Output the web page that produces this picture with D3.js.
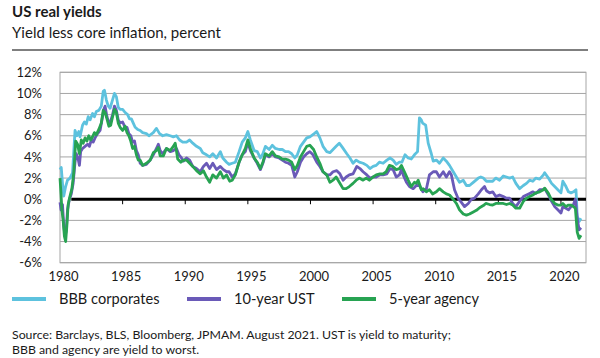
<!DOCTYPE html>
<html><head><meta charset="utf-8">
<script src="https://cdn.jsdelivr.net/npm/d3@7"></script>
<style>
html,body{margin:0;padding:0;background:#fff;}
text{font-family:Lato,"Liberation Sans",Arial,sans-serif;fill:#1a1a1a;}
</style></head>
<body><svg id="chart" width="600" height="358"></svg>
<script>
const title = "US real yields";
const subtitle = "Yield less core inflation, percent";
const footnote = ["Source: Barclays, BLS, Bloomberg, JPMAM. August 2021. UST is yield to maturity;", "BBB and agency are yield to worst."];
const seriesNames = ["BBB corporates", "10-year UST", "5-year agency"];
const seriesColors = ["#5dc2de", "#6a5ab8", "#27a352"];
const xTickYears = [1980, 1985, 1990, 1995, 2000, 2005, 2010, 2015, 2020];
const yTickValues = [-6, -4, -2, 0, 2, 4, 6, 8, 10, 12];

// [decimal year, real yield %]
const bbbCorporates = [[1980.0,2.8],[1980.1,3.0],[1980.2,1.5],[1980.3,0.3],[1980.45,1.2],[1980.6,1.8],[1980.8,2.0],[1981.0,2.5],[1981.1,4.5],[1981.2,6.5],[1981.35,6.0],[1981.5,6.4],[1981.6,5.9],[1981.8,7.0],[1981.95,7.3],[1982.1,7.1],[1982.25,7.8],[1982.4,7.5],[1982.6,8.1],[1982.75,7.8],[1982.9,8.3],[1983.1,8.4],[1983.3,8.8],[1983.45,10.2],[1983.55,10.3],[1983.7,9.4],[1983.85,8.8],[1984.0,8.6],[1984.15,9.2],[1984.35,10.0],[1984.5,9.7],[1984.65,8.7],[1984.8,8.5],[1985.0,8.5],[1985.2,8.2],[1985.4,8.0],[1985.55,7.6],[1985.7,7.6],[1985.85,7.2],[1986.0,6.8],[1986.2,6.6],[1986.4,6.5],[1986.6,6.3],[1986.9,6.2],[1987.1,6.0],[1987.45,6.3],[1987.7,6.7],[1987.95,6.2],[1988.2,6.0],[1988.5,6.1],[1988.8,6.0],[1989.05,5.9],[1989.3,6.0],[1989.55,5.6],[1989.8,5.4],[1990.1,5.4],[1990.35,5.6],[1990.6,5.3],[1990.9,5.0],[1991.2,4.8],[1991.4,4.4],[1991.7,4.2],[1991.95,4.0],[1992.2,4.3],[1992.5,3.9],[1992.8,4.5],[1993.0,3.9],[1993.3,3.5],[1993.5,3.3],[1993.75,3.4],[1994.0,3.5],[1994.3,4.5],[1994.55,5.4],[1994.8,5.8],[1995.0,6.4],[1995.2,5.6],[1995.5,4.6],[1995.75,4.5],[1996.0,3.9],[1996.2,4.3],[1996.4,5.0],[1996.7,4.7],[1996.95,5.1],[1997.2,4.8],[1997.5,4.7],[1997.75,4.7],[1998.0,4.5],[1998.25,4.5],[1998.5,4.3],[1998.75,3.9],[1998.95,4.2],[1999.2,5.0],[1999.45,5.4],[1999.7,5.8],[1999.95,5.9],[2000.3,6.2],[2000.5,6.4],[2000.75,5.8],[2001.0,5.0],[2001.3,4.5],[2001.55,4.4],[2001.8,4.7],[2002.05,5.0],[2002.3,5.3],[2002.55,4.9],[2002.9,4.3],[2003.15,3.9],[2003.4,3.4],[2003.65,3.7],[2003.9,3.5],[2004.2,3.4],[2004.5,3.2],[2004.75,2.9],[2005.0,3.1],[2005.25,3.2],[2005.5,3.5],[2005.8,3.4],[2006.1,3.7],[2006.35,3.9],[2006.6,3.7],[2006.85,3.3],[2007.1,3.5],[2007.3,3.5],[2007.55,4.2],[2007.8,3.9],[2008.05,3.8],[2008.3,4.2],[2008.55,4.5],[2008.7,7.7],[2008.85,7.5],[2008.95,7.2],[2009.2,7.0],[2009.4,5.3],[2009.65,4.3],[2009.8,3.6],[2010.05,3.7],[2010.3,3.4],[2010.6,3.9],[2010.85,3.6],[2011.1,3.2],[2011.4,2.6],[2011.65,2.1],[2011.9,1.6],[2012.2,1.8],[2012.45,1.3],[2012.7,1.3],[2013.0,1.6],[2013.4,2.0],[2013.6,2.1],[2013.8,2.0],[2014.05,1.7],[2014.3,1.7],[2014.55,1.7],[2014.8,2.0],[2015.1,1.8],[2015.4,2.2],[2015.65,2.1],[2015.9,2.0],[2016.15,2.1],[2016.4,1.5],[2016.7,1.0],[2017.0,1.3],[2017.25,1.5],[2017.5,1.8],[2017.75,1.7],[2018.0,2.0],[2018.3,1.9],[2018.6,2.3],[2018.7,2.5],[2019.0,2.0],[2019.25,1.5],[2019.5,1.2],[2019.75,0.9],[2020.0,0.6],[2020.15,1.7],[2020.4,1.2],[2020.6,0.7],[2020.8,0.6],[2021.0,0.7],[2021.2,0.9],[2021.3,-1.6],[2021.45,-2.1],[2021.6,-1.8]];

const tenYearUST = [[1980.0,-0.3],[1980.08,-1.0],[1980.2,-0.5],[1980.3,-2.5],[1980.4,-3.5],[1980.5,-3.0],[1980.6,-1.0],[1980.75,0.0],[1980.9,0.5],[1981.05,1.5],[1981.2,3.5],[1981.3,4.3],[1981.45,3.8],[1981.55,3.2],[1981.65,4.5],[1981.8,4.8],[1982.0,5.0],[1982.2,5.2],[1982.35,5.0],[1982.5,5.6],[1982.65,5.4],[1982.8,5.8],[1983.0,6.2],[1983.2,6.5],[1983.35,7.5],[1983.5,8.5],[1983.6,8.8],[1983.75,7.8],[1983.9,7.2],[1984.05,7.4],[1984.2,8.0],[1984.35,8.8],[1984.5,8.4],[1984.65,7.5],[1984.8,7.2],[1985.0,7.3],[1985.2,6.8],[1985.35,6.8],[1985.5,6.2],[1985.65,6.0],[1985.8,5.4],[1985.95,5.5],[1986.1,4.6],[1986.25,4.2],[1986.4,3.4],[1986.6,3.2],[1986.9,3.3],[1987.2,3.7],[1987.45,4.2],[1987.7,4.8],[1987.85,5.2],[1988.0,4.6],[1988.2,4.3],[1988.5,4.8],[1988.8,4.5],[1989.05,4.6],[1989.3,4.8],[1989.5,4.2],[1989.7,3.9],[1989.85,3.6],[1990.1,3.9],[1990.35,3.7],[1990.6,3.1],[1990.9,2.9],[1991.2,2.6],[1991.45,3.1],[1991.7,3.4],[1991.95,2.9],[1992.2,3.4],[1992.5,2.8],[1992.8,3.1],[1993.05,2.8],[1993.3,2.6],[1993.5,2.6],[1993.75,2.1],[1994.0,2.4],[1994.3,3.5],[1994.55,4.2],[1994.8,4.5],[1995.0,5.4],[1995.2,4.6],[1995.5,3.9],[1995.75,3.4],[1996.0,2.8],[1996.2,3.4],[1996.4,4.2],[1996.7,4.0],[1996.95,4.3],[1997.2,4.0],[1997.5,3.9],[1997.75,3.7],[1998.0,3.5],[1998.25,3.4],[1998.5,3.2],[1998.75,2.1],[1998.95,2.6],[1999.2,3.5],[1999.45,4.0],[1999.7,4.3],[1999.95,4.5],[2000.2,4.2],[2000.5,3.5],[2000.75,3.1],[2001.0,2.6],[2001.3,2.3],[2001.55,2.3],[2001.8,2.6],[2002.1,2.7],[2002.35,2.4],[2002.6,1.8],[2002.85,2.1],[2003.1,2.3],[2003.4,2.4],[2003.7,3.1],[2003.95,2.9],[2004.2,2.6],[2004.5,2.3],[2004.75,2.0],[2005.0,2.1],[2005.25,2.1],[2005.55,2.3],[2005.8,2.3],[2006.1,2.4],[2006.35,2.9],[2006.6,2.8],[2006.85,2.1],[2007.1,2.3],[2007.26,2.8],[2007.4,2.3],[2007.66,1.6],[2007.9,1.2],[2008.2,1.0],[2008.45,1.3],[2008.7,1.3],[2008.98,0.7],[2009.26,1.0],[2009.5,2.3],[2009.8,2.6],[2010.05,2.6],[2010.3,2.1],[2010.6,2.6],[2010.85,2.1],[2011.1,2.6],[2011.25,2.3],[2011.5,0.9],[2011.78,0.1],[2012.05,-0.3],[2012.3,-0.7],[2012.6,-0.4],[2012.85,0.0],[2013.1,0.1],[2013.4,0.5],[2013.65,0.9],[2013.9,1.2],[2014.05,0.8],[2014.3,0.6],[2014.55,0.7],[2014.8,0.25],[2015.1,0.4],[2015.4,0.25],[2015.65,0.1],[2015.9,0.1],[2016.15,-0.4],[2016.4,-0.7],[2016.7,-0.2],[2017.0,0.25],[2017.25,0.4],[2017.5,0.55],[2017.75,0.7],[2018.0,0.55],[2018.3,0.9],[2018.6,0.9],[2018.7,1.0],[2019.0,0.4],[2019.25,-0.2],[2019.5,-0.7],[2019.75,-1.0],[2020.0,-1.3],[2020.15,-0.7],[2020.4,-0.85],[2020.6,-1.0],[2020.8,-0.7],[2021.0,-0.5],[2021.15,0.0],[2021.3,-1.8],[2021.45,-2.9],[2021.6,-2.7]];

const fiveYearAgency = [[1980.0,2.0],[1980.08,0.5],[1980.15,-1.0],[1980.25,-2.0],[1980.35,-3.5],[1980.45,-4.0],[1980.55,-2.5],[1980.65,-0.5],[1980.8,0.3],[1980.95,1.0],[1981.1,2.5],[1981.25,5.5],[1981.4,5.2],[1981.55,4.3],[1981.7,5.6],[1981.85,5.3],[1982.0,5.8],[1982.15,5.5],[1982.3,6.0],[1982.45,5.6],[1982.6,5.9],[1982.75,6.3],[1982.9,6.1],[1983.1,6.6],[1983.3,7.2],[1983.45,8.4],[1983.6,8.2],[1983.75,7.6],[1983.9,6.9],[1984.05,7.0],[1984.2,7.8],[1984.35,8.5],[1984.5,8.2],[1984.65,7.2],[1984.8,6.8],[1985.0,6.5],[1985.2,6.9],[1985.35,6.3],[1985.5,6.0],[1985.65,5.5],[1985.8,4.8],[1985.95,5.0],[1986.1,4.2],[1986.25,3.7],[1986.4,3.7],[1986.6,3.2],[1986.9,3.4],[1987.2,3.7],[1987.45,4.4],[1987.7,4.6],[1987.85,4.9],[1988.0,4.1],[1988.25,4.1],[1988.5,4.8],[1988.8,4.6],[1989.05,5.0],[1989.2,5.3],[1989.4,3.8],[1989.65,3.5],[1989.85,3.7],[1990.1,3.7],[1990.35,3.4],[1990.6,3.1],[1990.9,2.7],[1991.2,2.4],[1991.45,2.7],[1991.7,2.1],[1991.95,1.6],[1992.2,2.3],[1992.5,2.0],[1992.8,2.6],[1993.05,2.0],[1993.3,2.3],[1993.55,1.7],[1993.75,1.8],[1994.0,2.3],[1994.3,3.5],[1994.55,4.2],[1994.8,4.8],[1995.0,5.6],[1995.2,4.8],[1995.5,3.9],[1995.75,3.5],[1996.0,2.9],[1996.2,3.5],[1996.4,4.3],[1996.7,4.1],[1996.95,4.5],[1997.2,4.1],[1997.5,4.0],[1997.75,3.8],[1998.0,3.8],[1998.25,3.7],[1998.5,3.5],[1998.75,2.8],[1998.95,3.2],[1999.2,4.0],[1999.45,4.5],[1999.7,5.0],[1999.95,5.1],[2000.25,4.7],[2000.5,4.0],[2000.75,3.4],[2001.0,2.6],[2001.3,2.3],[2001.55,1.6],[2001.8,1.8],[2002.05,2.1],[2002.3,1.6],[2002.6,1.0],[2002.85,1.0],[2003.1,1.2],[2003.4,1.5],[2003.65,1.8],[2003.9,2.0],[2004.2,1.8],[2004.45,2.0],[2004.7,1.8],[2005.0,2.1],[2005.25,2.3],[2005.55,2.4],[2005.8,2.4],[2006.05,2.6],[2006.3,3.2],[2006.55,3.1],[2006.85,2.8],[2007.1,2.9],[2007.26,3.2],[2007.5,2.6],[2007.8,1.8],[2008.05,1.2],[2008.3,1.6],[2008.45,1.5],[2008.6,1.8],[2008.85,0.9],[2009.0,1.0],[2009.25,0.7],[2009.5,0.9],[2009.75,0.5],[2010.05,0.7],[2010.3,1.0],[2010.6,0.7],[2010.85,0.5],[2011.1,0.4],[2011.4,0.0],[2011.65,-0.4],[2011.9,-1.0],[2012.2,-1.4],[2012.45,-1.5],[2012.7,-1.4],[2013.0,-1.2],[2013.25,-1.05],[2013.5,-0.8],[2013.8,-0.6],[2014.0,-0.4],[2014.3,-0.5],[2014.55,-0.55],[2014.8,-0.4],[2015.1,-0.4],[2015.4,-0.4],[2015.65,-0.5],[2015.9,-0.4],[2016.15,-0.55],[2016.4,-0.85],[2016.7,-0.85],[2017.0,-0.2],[2017.25,0.1],[2017.5,0.25],[2017.75,0.4],[2018.0,0.6],[2018.3,0.7],[2018.6,0.9],[2018.7,1.05],[2019.0,0.55],[2019.25,-0.05],[2019.5,-0.4],[2019.75,-0.55],[2020.0,-0.55],[2020.15,-0.4],[2020.4,-0.7],[2020.6,-0.55],[2020.8,-0.55],[2021.0,-0.7],[2021.15,-0.85],[2021.3,-3.1],[2021.45,-3.7],[2021.6,-3.4]];

const svg = d3.select("#chart");
const plot = {left: 60, right: 586, top: 72.3, bottom: 262.7};
const x = d3.scaleLinear().domain([1980, 2022]).range([plot.left, plot.right]);
const y = d3.scaleLinear().domain([-6, 12]).range([plot.bottom, plot.top]);

// Titles
svg.append("text").attr("x", 12).attr("y", 17).attr("font-size", 15).attr("font-weight", "bold").text(title);
svg.append("text").attr("x", 12).attr("y", 38).attr("font-size", 15).text(subtitle);
svg.append("line").attr("x1", 12).attr("x2", 588).attr("y1", 50).attr("y2", 50).attr("stroke", "#000").attr("stroke-width", 1.2);

// Gridlines
svg.append("g").selectAll("line").data(yTickValues.filter(v => v !== 0)).join("line")
  .attr("x1", plot.left).attr("x2", plot.right)
  .attr("y1", d => y(d)).attr("y2", d => y(d))
  .attr("stroke", "#a6a6a6").attr("stroke-width", 1);
svg.append("rect").attr("x", plot.left).attr("y", plot.top)
  .attr("width", plot.right - plot.left).attr("height", plot.bottom - plot.top)
  .attr("fill", "none").attr("stroke", "#a6a6a6").attr("stroke-width", 1);

// Y axis labels
const yAxis = d3.axisLeft(y).tickValues(yTickValues).tickFormat(d => d + "%").tickSize(0).tickPadding(0);
const gy = svg.append("g").attr("transform", `translate(42,0)`).call(yAxis);
gy.select(".domain").remove();
gy.selectAll("text").attr("font-size", 13).attr("font-family", null).attr("fill", "#1a1a1a");

// Zero line with ticks
svg.append("line").attr("x1", x(1980.9)).attr("x2", plot.right)
  .attr("y1", y(0)).attr("y2", y(0)).attr("stroke", "#000").attr("stroke-width", 3);
svg.append("g").selectAll("line").data(xTickYears.filter(d => d > 1980)).join("line")
  .attr("x1", d => x(d)).attr("x2", d => x(d))
  .attr("y1", y(0)).attr("y2", y(0) + 5).attr("stroke", "#000").attr("stroke-width", 1);

// X labels
const xAxis = d3.axisBottom(x).tickValues(xTickYears).tickFormat(d3.format("d")).tickSize(0).tickPadding(0);
const gx = svg.append("g").attr("transform", `translate(3,${plot.bottom + 9})`).call(xAxis);
gx.select(".domain").remove();
gx.selectAll("text").attr("font-size", 13).attr("font-family", null).attr("fill", "#1a1a1a");

// Lines
const line = d3.line().x(d => x(d[0])).y(d => y(d[1]));
const allSeries = [bbbCorporates, tenYearUST, fiveYearAgency];
svg.append("g").selectAll("path").data(allSeries).join("path")
  .attr("d", line).attr("fill", "none")
  .attr("stroke", (d, i) => seriesColors[i]).attr("stroke-width", 2.8)
  .attr("stroke-linejoin", "round");

// Legend
const legendX = [12, 187, 342];
const lg = svg.append("g").selectAll("g").data(seriesNames).join("g")
  .attr("transform", (d, i) => `translate(${legendX[i]},299)`);
lg.append("line").attr("x1", 0).attr("x2", 34).attr("y1", 0).attr("y2", 0)
  .attr("stroke", (d, i) => seriesColors[i]).attr("stroke-width", 4);
lg.append("text").attr("x", 47).attr("y", 5).attr("font-size", 14.6).text(d => d);

// Footnote
svg.append("g").selectAll("text").data(footnote).join("text")
  .attr("x", 12).attr("y", (d, i) => 339 + i * 15).attr("font-size", 12.3).text(d => d);
</script></body></html>
